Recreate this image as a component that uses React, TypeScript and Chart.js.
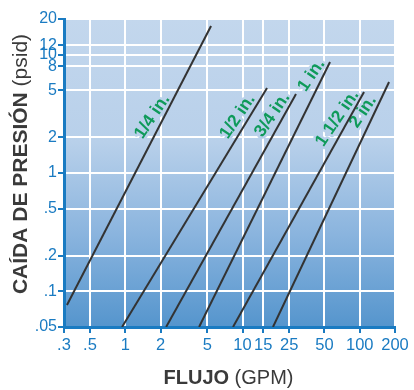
import React, { useEffect, useRef } from "react";
import { Chart, registerables } from "chart.js";

Chart.register(...registerables);

// Axis ticks
const xTickValues = [0.3, 0.5, 1, 2, 5, 10, 15, 25, 50, 100, 200];
const xTickLabels = [".3", ".5", "1", "2", "5", "10", "15", "25", "50", "100", "200"];
const yTickValues = [0.05, 0.1, 0.2, 0.5, 1, 2, 5, 8, 10, 12, 20];
const yTickLabels = [".05", ".1", ".2", ".5", "1", "2", "5", "8", "10", "12", "20"];

// Series (one straight line per pipe size): flow (GPM) vs pressure drop (psid)
const sizeNames = ["1/4 in.", "1/2 in.", "3/4 in.", "1 in.", "1 1/2 in.", "2 in."];
const flowStart = [0.318, 0.938, 2.23, 4.26, 8.3, 18.2];
const dropStart = [0.0767, 0.05, 0.05, 0.05, 0.05, 0.05];
const flowEnd = [5.39, 16.19, 28.6, 55.8, 108.8, 177.9];
const dropEnd = [17.46, 5.23, 4.65, 8.66, 4.83, 5.87];
const labelDrop = [3.0, 3.0, 3.1, 6.7, 2.9, 3.3];

const FONT = "'Liberation Sans', Arial, Helvetica, sans-serif";
const BLUE = "#1a7bc2";
const GREEN = "#0f9a5a";
const LINE = "#333333";
const TITLE = "#3a3a3a";

const bgStops: [number, string][] = [
  [0, "#c3d7ed"],
  [0.4, "#b8d0ea"],
  [0.7, "#8ab4de"],
  [1, "#5595cd"],
];

function addStops(g: CanvasGradient) {
  bgStops.forEach(([o, c]) => g.addColorStop(o, c));
}

const backgroundPlugin = {
  id: "plotBackground",
  beforeDraw(chart: any) {
    const { ctx, chartArea } = chart;
    const g = ctx.createLinearGradient(0, chartArea.top, 0, chartArea.bottom);
    addStops(g);
    ctx.save();
    ctx.fillStyle = g;
    ctx.fillRect(chartArea.left, chartArea.top, chartArea.right - chartArea.left, chartArea.bottom - chartArea.top);
    ctx.restore();
  },
};

const labelPlugin = {
  id: "sizeLabels",
  beforeDatasetsDraw(chart: any) {
    const { ctx, chartArea, scales } = chart;
    const xs = scales.x;
    const ys = scales.y;
    const ang = (-56 * Math.PI) / 180;
    ctx.save();
    ctx.font = `bold 17.5px ${FONT}`;
    ctx.textAlign = "center";
    ctx.textBaseline = "middle";
    sizeNames.forEach((name, i) => {
      const x0 = xs.getPixelForValue(flowStart[i]);
      const y0 = ys.getPixelForValue(dropStart[i]);
      const x1 = xs.getPixelForValue(flowEnd[i]);
      const y1 = ys.getPixelForValue(dropEnd[i]);
      const ly = ys.getPixelForValue(labelDrop[i]);
      const lx = x0 + ((x1 - x0) * (ly - y0)) / (y1 - y0) - 12;
      ctx.save();
      ctx.translate(lx, ly);
      ctx.rotate(ang);
      const c = Math.cos(-ang);
      const s = Math.sin(-ang);
      const toLocal = (px: number, py: number) => {
        const dx = px - lx;
        const dy = py - ly;
        return [dx * c - dy * s, dx * s + dy * c];
      };
      const a = toLocal(0, chartArea.top);
      const b = toLocal(0, chartArea.bottom);
      const g = ctx.createLinearGradient(a[0], a[1], b[0], b[1]);
      addStops(g);
      ctx.strokeStyle = g;
      ctx.lineWidth = 5;
      ctx.lineJoin = "round";
      ctx.strokeText(name, 0, 0);
      ctx.fillStyle = GREEN;
      ctx.fillText(name, 0, 0);
      ctx.restore();
    });
    ctx.restore();
  },
};

function drawMixed(ctx: CanvasRenderingContext2D, boldText: string, normalText: string, size: number) {
  ctx.font = `bold ${size}px ${FONT}`;
  const w1 = ctx.measureText(boldText).width;
  ctx.font = `${size}px ${FONT}`;
  const w2 = ctx.measureText(normalText).width;
  const start = -(w1 + w2) / 2;
  ctx.textAlign = "left";
  ctx.textBaseline = "middle";
  ctx.fillStyle = TITLE;
  ctx.font = `bold ${size}px ${FONT}`;
  ctx.fillText(boldText, start, 0);
  ctx.font = `${size}px ${FONT}`;
  ctx.fillText(normalText, start + w1, 0);
}

const titlePlugin = {
  id: "axisTitles",
  afterDraw(chart: any) {
    const { ctx, chartArea } = chart;
    ctx.save();
    ctx.translate((chartArea.left + chartArea.right) / 2 - 1, 378);
    drawMixed(ctx, "FLUJO", " (GPM)", 20);
    ctx.restore();
    ctx.save();
    ctx.translate(21, 164);
    ctx.rotate(-Math.PI / 2);
    drawMixed(ctx, "CAÍDA DE PRESIÓN", " (psid)", 21);
    ctx.restore();
  },
};

export default function App() {
  const canvasRef = useRef<HTMLCanvasElement | null>(null);

  useEffect(() => {
    if (!canvasRef.current) return;
    const datasets = sizeNames.map((name, i) => ({
      label: name,
      data: [
        { x: flowStart[i], y: dropStart[i] },
        { x: flowEnd[i], y: dropEnd[i] },
      ],
      showLine: true,
      borderColor: LINE,
      borderWidth: 2,
      pointRadius: 0,
      fill: false,
    }));

    const chart = new Chart(canvasRef.current, {
      type: "scatter",
      data: { datasets },
      plugins: [backgroundPlugin, labelPlugin, titlePlugin],
      options: {
        animation: false,
        responsive: false,
        devicePixelRatio: 1,
        layout: { padding: { left: 0, top: 19, right: 19, bottom: 0 } },
        plugins: {
          legend: { display: false },
          tooltip: { enabled: false },
        },
        scales: {
          x: {
            type: "logarithmic",
            min: 0.3,
            max: 200,
            afterBuildTicks: (scale: any) => {
              scale.ticks = xTickValues.map((v) => ({ value: v }));
            },
            afterFit: (scale: any) => {
              scale.height = 63;
            },
            ticks: {
              autoSkip: false,
              maxRotation: 0,
              minRotation: 0,
              color: BLUE,
              font: { family: FONT, size: 16.5 },
              padding: 3,
              callback: (_v: any, index: number) => xTickLabels[index],
            },
            grid: {
              color: "#ffffff",
              lineWidth: 2,
              tickColor: BLUE,
              tickLength: 6,
              tickWidth: 2,
            },
            border: { color: BLUE, width: 3 },
          },
          y: {
            type: "logarithmic",
            min: 0.05,
            max: 20,
            afterBuildTicks: (scale: any) => {
              scale.ticks = yTickValues.map((v) => ({ value: v }));
            },
            afterFit: (scale: any) => {
              scale.width = 64;
            },
            ticks: {
              autoSkip: false,
              color: BLUE,
              font: { family: FONT, size: 16 },
              padding: 1,
              callback: (_v: any, index: number) => yTickLabels[index],
            },
            grid: {
              color: "#ffffff",
              lineWidth: 2,
              tickColor: BLUE,
              tickLength: 6,
              tickWidth: 2,
            },
            border: { color: BLUE, width: 3 },
          },
        },
      } as any,
    });
    return () => chart.destroy();
  }, []);

  return (
    <div style={{ position: "fixed", left: 0, top: 0, width: 414, height: 390, background: "#ffffff" }}>
      <canvas ref={canvasRef} width={414} height={390} style={{ display: "block", width: 414, height: 390 }} />
    </div>
  );
}
